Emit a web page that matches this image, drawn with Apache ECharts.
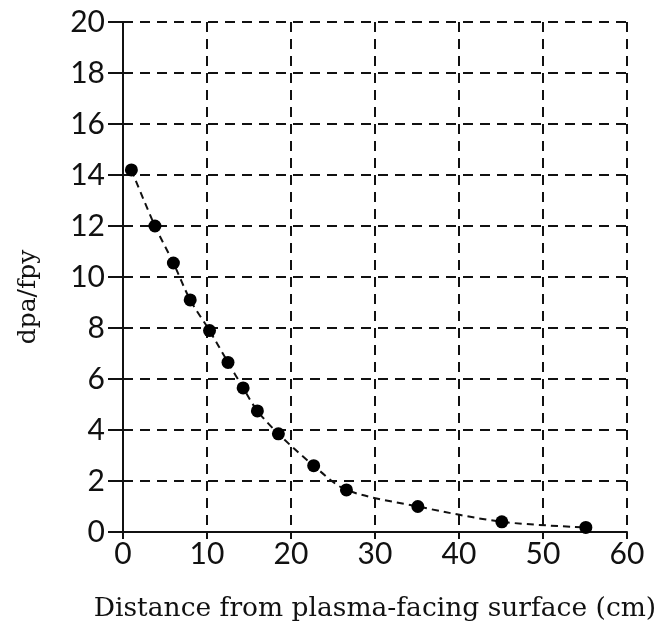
<!DOCTYPE html>
<html>
<head>
<meta charset="utf-8">
<script src="https://cdn.jsdelivr.net/npm/echarts@6/dist/echarts.min.js"></script>
<style>
html,body{margin:0;padding:0;background:#fff;}
#chart{width:664px;height:629px;}
</style>
</head>
<body>
<div id="chart"></div>
<script>
// Data
const distanceCm = [1.0, 3.8, 6.0, 8.0, 10.3, 12.5, 14.3, 16.0, 18.5, 22.7, 26.6, 35.1, 45.1, 55.1];
const dpaPerFpy  = [14.2, 12.0, 10.55, 9.1, 7.9, 6.65, 5.65, 4.75, 3.85, 2.6, 1.65, 1.0, 0.4, 0.18];
const xTicks = [0, 10, 20, 30, 40, 50, 60];
const yTicks = [0, 2, 4, 6, 8, 10, 12, 14, 16, 18, 20];
const xName = 'Distance from plasma-facing surface (cm)';
const yName = 'dpa/fpy';

const points = distanceCm.map((x, i) => [x, dpaPerFpy[i]]);

const chart = echarts.init(document.getElementById('chart'), null, {renderer: 'canvas'});
const gridDash = {color: '#111', width: 2, type: [10, 7]};
chart.setOption({
  animation: false,
  backgroundColor: '#fff',
  grid: {left: 123, right: 37, top: 22, bottom: 97, containLabel: false, outerBoundsMode: 'none'},
  xAxis: {
    type: 'value',
    min: xTicks[0], max: xTicks[xTicks.length - 1], interval: 10,
    name: xName,
    nameLocation: 'middle',
    nameGap: 64,
    nameTextStyle: {fontFamily: 'DejaVu Serif', fontSize: 26.5, color: '#111'},
    axisLine: {show: true, lineStyle: {color: '#111', width: 2}},
    axisTick: {show: true, length: 7, lineStyle: {color: '#111', width: 2}},
    axisLabel: {fontFamily: 'Lato', fontSize: 30, color: '#111', margin: 7},
    splitLine: {show: true, lineStyle: gridDash}
  },
  yAxis: {
    type: 'value',
    min: yTicks[0], max: yTicks[yTicks.length - 1], interval: 2,
    name: yName,
    nameLocation: 'middle',
    nameGap: 82,
    nameRotate: 90,
    nameTextStyle: {fontFamily: 'DejaVu Serif', fontSize: 25, color: '#111', padding: [0, 40, 0, 0]},
    axisLine: {show: true, lineStyle: {color: '#111', width: 2}},
    axisTick: {show: true, length: 15, lineStyle: {color: '#111', width: 2}},
    axisLabel: {fontFamily: 'Lato', fontSize: 30, color: '#111', margin: 18},
    splitLine: {show: true, lineStyle: gridDash}
  },
  series: [{
    type: 'line',
    data: points,
    smooth: 0.3,
    symbol: 'circle',
    symbolSize: 13,
    itemStyle: {color: '#000'},
    lineStyle: {color: '#111', width: 2, type: [7, 5]},
    z: 5
  }]
});
</script>
</body>
</html>
